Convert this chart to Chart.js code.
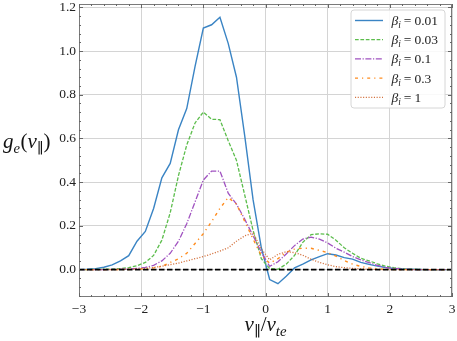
<!DOCTYPE html>
<html><head><meta charset="utf-8">
<script src="https://cdn.jsdelivr.net/npm/chart.js@4/dist/chart.umd.min.js"></script>
<style>html,body{margin:0;padding:0;background:#fff;}#wrap{position:relative;width:457px;height:341px;}</style>
</head><body><div id="wrap"><canvas id="c" width="457" height="341"></canvas></div>
<script>
// ---- data ----
const vPar = [-3, -2.867, -2.733, -2.6, -2.467, -2.333, -2.2, -2.067, -1.933, -1.8,
  -1.667, -1.533, -1.4, -1.267, -1.133, -1.0, -0.867, -0.733, -0.6, -0.467,
  -0.333, -0.2, -0.067, 0.067, 0.2, 0.333, 0.467, 0.6, 0.733, 0.867,
  1.0, 1.133, 1.267, 1.4, 1.533, 1.667, 1.8, 1.933, 2.067, 2.2,
  2.333, 2.467, 2.6, 2.733, 2.867, 3.0];
const betaLabels = ['0.01', '0.03', '0.1', '0.3', '1'];
const gBeta001 = [0, 0.002, 0.005, 0.011, 0.022, 0.04, 0.064, 0.13, 0.175, 0.28,
  0.42, 0.486, 0.64, 0.737, 0.93, 1.105, 1.12, 1.154, 1.035, 0.88,
  0.61, 0.32, 0.10, -0.045, -0.064, -0.03, 0.008, 0.025, 0.045, 0.06,
  0.073, 0.067, 0.055, 0.048, 0.033, 0.024, 0.016, 0.01, 0.006, 0.003,
  0.002, 0.001, 0, 0, 0, 0];
const gBeta003 = [0, 0, 0.001, 0.002, 0.003, 0.005, 0.009, 0.018, 0.033, 0.065,
  0.135, 0.26, 0.43, 0.57, 0.671, 0.721, 0.688, 0.686, 0.59, 0.50,
  0.34, 0.18, 0.05, 0.005, 0.002, 0.025, 0.065, 0.125, 0.16, 0.164,
  0.162, 0.135, 0.10, 0.075, 0.052, 0.04, 0.027, 0.016, 0.009, 0.004,
  0.002, 0.001, 0, 0, 0, 0];
const gBeta01 = [0, 0, 0, 0, 0.001, 0.002, 0.003, 0.006, 0.01, 0.02,
  0.04, 0.075, 0.13, 0.21, 0.31, 0.41, 0.451, 0.451, 0.35, 0.30,
  0.23, 0.155, 0.08, 0.015, 0.036, 0.072, 0.11, 0.14, 0.149, 0.14,
  0.122, 0.098, 0.08, 0.06, 0.045, 0.032, 0.02, 0.01, 0.006, 0.003,
  0.001, 0, 0, 0, 0, 0];
const gBeta03 = [0, 0, 0, 0, 0, 0.001, 0.001, 0.002, 0.004, 0.008,
  0.015, 0.033, 0.05, 0.075, 0.12, 0.165, 0.22, 0.28, 0.33, 0.30,
  0.22, 0.14, 0.065, 0.03, 0.05, 0.08, 0.094, 0.098, 0.098, 0.088,
  0.078, 0.062, 0.042, 0.025, 0.015, 0.008, 0.004, 0.002, 0.001, 0,
  0, 0, 0, 0, 0, 0];
const gBeta1 = [0, 0, 0, 0, 0, 0.001, 0.002, 0.003, 0.006, 0.01,
  0.016, 0.023, 0.03, 0.04, 0.05, 0.06, 0.072, 0.085, 0.1, 0.13,
  0.155, 0.167, 0.095, 0.045, 0.07, 0.082, 0.078, 0.066, 0.048, 0.033,
  0.022, 0.014, 0.009, 0.006, 0.004, 0.002, 0.001, 0, 0, 0,
  0, 0, 0, 0, 0, 0];
const zeroLineX = [-3, 3];
const zeroLineY = [0, 0];
const xTicks = [-3, -2, -1, 0, 1, 2, 3];
const yTicks = [0, 0.2, 0.4, 0.6, 0.8, 1.0, 1.2];

// ---- styles ----
const series = [gBeta001, gBeta003, gBeta01, gBeta03, gBeta1];
const colors = ['#3a84c4', '#5cbd4c', '#a052c0', '#ff8c1e', '#d2703c'];
const dashes = [[], [3.7, 1.7], [6, 1.6, 1.2, 1.6], [3, 4, 1.2, 4], [1.1, 1.6]];
const widths = [1.4, 1.3, 1.3, 1.4, 1.3];
const SERIF = '"Liberation Serif", "DejaVu Serif", serif';

const pts = (xs, ys) => xs.map((x, i) => ({x: x, y: ys[i]}));
const datasets = series.map((s, i) => ({
  label: betaLabels[i], data: pts(vPar, s), borderColor: colors[i],
  borderDash: dashes[i], borderWidth: widths[i], showLine: true,
  pointRadius: 0, fill: false, tension: 0, order: 10 - i
}));
datasets.push({label: 'zero', data: pts(zeroLineX, zeroLineY), borderColor: '#000',
  borderDash: [5.5, 2.5], borderWidth: 1.8, showLine: true, pointRadius: 0, order: 0});

function drawMath(ctx, parts, x, y, size, align) {
  const fontFor = (p) => {
    const sub = p[1].startsWith('s');
    const it = p[1].endsWith('i');
    return (it ? 'italic ' : '') + (sub ? size * 0.7 : size) + 'px ' + SERIF;
  };
  let total = 0;
  parts.forEach(p => { ctx.font = fontFor(p); total += ctx.measureText(p[0]).width + (p[2] || 0); });
  let cx = align === 'center' ? x - total / 2 : x;
  ctx.textAlign = 'left';
  ctx.textBaseline = 'alphabetic';
  parts.forEach(p => {
    ctx.font = fontFor(p);
    const dy = p[1].startsWith('s') ? size * 0.22 : 0;
    ctx.fillText(p[0], cx, y + dy);
    cx += ctx.measureText(p[0]).width + (p[2] || 0);
  });
}

const decor = {
  id: 'decor',
  afterDraw(chart) {
    const ctx = chart.ctx, a = chart.chartArea;
    const xs = chart.scales.x, ys = chart.scales.y;
    ctx.save();
    // frame
    ctx.strokeStyle = '#7a7a7a'; ctx.lineWidth = 1; ctx.setLineDash([]);
    ctx.strokeRect(a.left + 0.5, a.top + 0.5, a.right - a.left - 1, a.bottom - a.top - 1);
    // inward ticks
    ctx.beginPath();
    const xMinor = [], yMinor = [];
    for (let i = 0; i < xTicks.length - 1; i++) {
      const st = (xTicks[i + 1] - xTicks[i]) / 5;
      for (let k = 1; k < 5; k++) xMinor.push(xTicks[i] + k * st);
    }
    const yStep = (yTicks[1] - yTicks[0]) / 5;
    for (let v = yTicks[0] - yStep; v >= ys.min - 1e-9; v -= yStep) yMinor.push(v);
    for (let i = 0; i < yTicks.length - 1; i++) for (let k = 1; k < 5; k++) yMinor.push(yTicks[i] + k * yStep);
    for (let v = yTicks[yTicks.length - 1] + yStep; v <= ys.max + 1e-9; v += yStep) yMinor.push(v);
    const tickX = (v, len) => { const p = Math.round(xs.getPixelForValue(v)) + 0.5;
      ctx.moveTo(p, a.bottom); ctx.lineTo(p, a.bottom - len); ctx.moveTo(p, a.top); ctx.lineTo(p, a.top + len); };
    const tickY = (v, len) => { const p = Math.round(ys.getPixelForValue(v)) + 0.5;
      ctx.moveTo(a.left, p); ctx.lineTo(a.left + len, p); ctx.moveTo(a.right, p); ctx.lineTo(a.right - len, p); };
    xTicks.forEach(v => tickX(v, 4)); xMinor.forEach(v => tickX(v, 2));
    yTicks.forEach(v => tickY(v, 4)); yMinor.forEach(v => tickY(v, 2));
    ctx.strokeStyle = '#666'; ctx.stroke();

    // legend
    const lx = 351, ly = 10, lw = 94, lh = 98, r = 3;
    ctx.beginPath();
    ctx.moveTo(lx + r, ly); ctx.lineTo(lx + lw - r, ly); ctx.arcTo(lx + lw, ly, lx + lw, ly + r, r);
    ctx.lineTo(lx + lw, ly + lh - r); ctx.arcTo(lx + lw, ly + lh, lx + lw - r, ly + lh, r);
    ctx.lineTo(lx + r, ly + lh); ctx.arcTo(lx, ly + lh, lx, ly + lh - r, r);
    ctx.lineTo(lx, ly + r); ctx.arcTo(lx, ly, lx + r, ly, r); ctx.closePath();
    ctx.fillStyle = 'rgba(255,255,255,0.85)'; ctx.fill();
    ctx.strokeStyle = '#d6d6d6'; ctx.lineWidth = 1; ctx.stroke();
    ctx.fillStyle = '#222';
    betaLabels.forEach((lab, i) => {
      const cy = 20.5 + i * 19.2;
      ctx.beginPath(); ctx.setLineDash(dashes[i]); ctx.lineWidth = widths[i];
      ctx.strokeStyle = colors[i]; ctx.moveTo(355, cy); ctx.lineTo(383, cy); ctx.stroke();
      ctx.setLineDash([]);
      drawMath(ctx, [['β', 'i'], ['i', 'si', 3], ['=', 'r', 3], [lab, 'r']], 391.5, cy + 4.5, 13.5, 'left');
    });

    // axis titles
    ctx.fillStyle = '#111';
    drawMath(ctx, [['g', 'i'], ['e', 'si', 0.5], ['(', 'r'], ['v', 'i'], ['∥', 'sr'], [')', 'r']], 3, 148, 21, 'left');
    drawMath(ctx, [['v', 'i'], ['∥', 'sr'], ['/', 'r'], ['v', 'i'], ['te', 'si']], (a.left + a.right) / 2, 331, 21, 'center');
    ctx.restore();
  }
};

new Chart(document.getElementById('c'), {
  type: 'scatter',
  data: {datasets: datasets},
  options: {
    responsive: false, animation: false, devicePixelRatio: 1,
    layout: {padding: {left: 0, right: 5, top: 4, bottom: 0}},
    plugins: {legend: {display: false}, tooltip: {enabled: false}},
    scales: {
      x: {
        type: 'linear', min: xTicks[0], max: xTicks[xTicks.length - 1],
        afterBuildTicks: s => { s.ticks = xTicks.map(v => ({value: v})); },
        afterFit: s => { s.height = 44; s.paddingLeft = 0; s.paddingRight = 0; },
        ticks: {callback: v => (v < 0 ? '\u2212' + Math.abs(v) : String(v)), font: {family: SERIF, size: 13.5},
          color: '#222', padding: 4, maxRotation: 0, autoSkip: false},
        grid: {color: '#d4d4d4', lineWidth: 1, drawTicks: false},
        border: {display: false}
      },
      y: {
        type: 'linear', min: -0.125, max: 1.215,
        afterBuildTicks: s => { s.ticks = yTicks.map(v => ({value: v})); },
        afterFit: s => { s.width = 79; s.paddingTop = 0; s.paddingBottom = 0; },
        ticks: {callback: v => v.toFixed(1), font: {family: SERIF, size: 13.5}, color: '#222', padding: 3, autoSkip: false},
        grid: {color: '#d4d4d4', lineWidth: 1, drawTicks: false},
        border: {display: false}
      }
    }
  },
  plugins: [decor]
});
</script></body></html>
